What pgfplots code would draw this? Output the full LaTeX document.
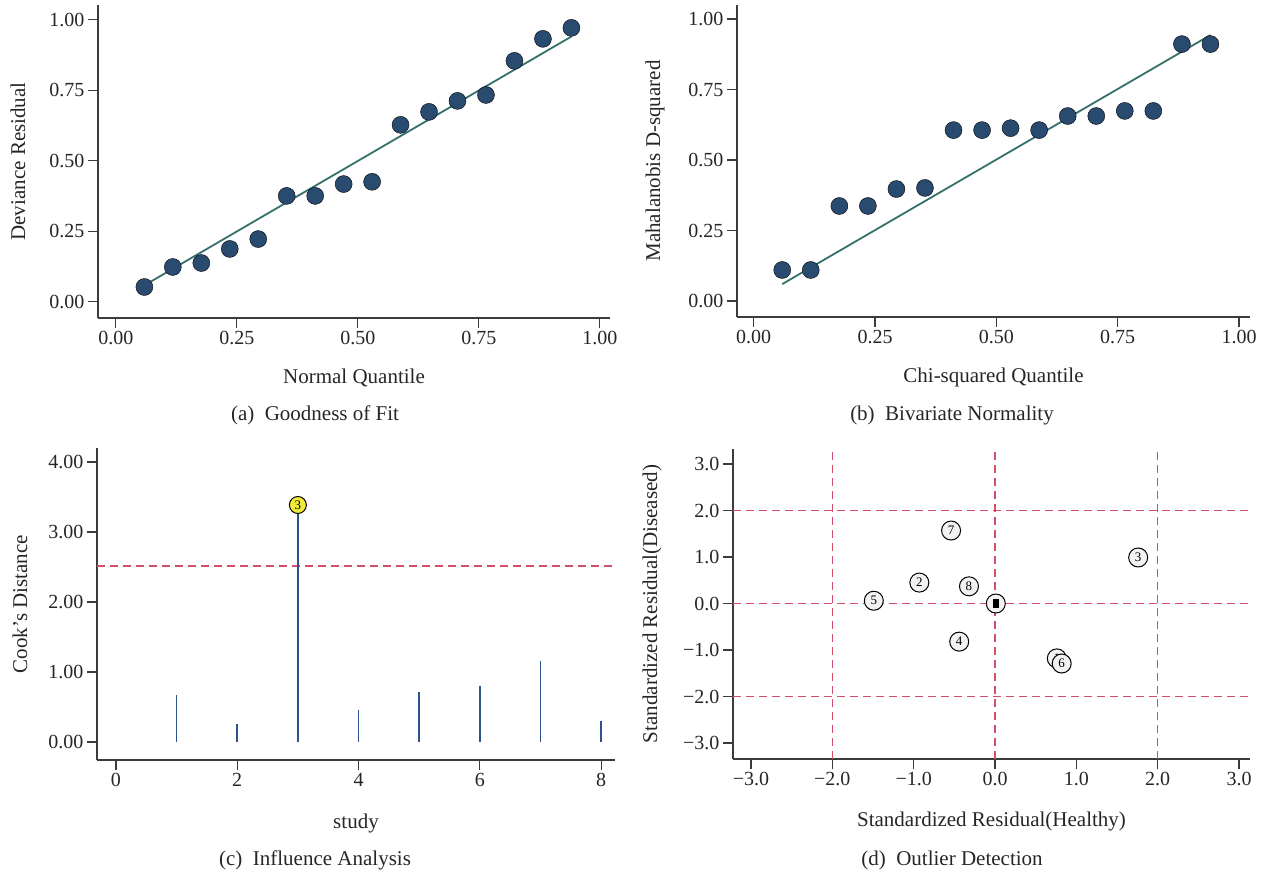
\documentclass[border=0pt]{standalone}
\usepackage{fontspec}
\setmainfont{Liberation Serif}
\usepackage{pgfplots}
\pgfplotsset{compat=1.18}
\definecolor{axisgray}{HTML}{3C3C3C}
\definecolor{dotnavy}{HTML}{2A4B70}
\definecolor{fitline}{HTML}{36706A}
\definecolor{refred}{HTML}{D4506A}
\definecolor{spikeblue}{HTML}{2C5290}
\definecolor{yel}{HTML}{F2EA3A}
\newcommand{\fs}{\fontsize{20}{23}\selectfont}
\newcommand{\fl}{\fontsize{21}{24}\selectfont}
\pgfplotsset{
  base/.style={
    scale only axis, anchor=south west,
    axis x line*=bottom, axis y line*=left,
    tick align=outside, major tick length=10pt,
    axis line style={axisgray, line width=1.1pt},
    every tick/.style={axisgray, line width=1.1pt},
    tick label style={font=\fs, text=black!85},
    label style={font=\fl, text=black!85},
    clip=false,
  },
  dots/.style={only marks, mark=*, mark size=8.5pt, mark options={draw=none, fill=dotnavy}},
  fit/.style={fitline, line width=1.8pt, mark=none},
  refdash/.style={refred, line width=1.6pt, dash pattern=on 8pt off 5pt},
}
\begin{document}
\begin{tikzpicture}
\useasboundingbox (0pt,0pt) rectangle (1268pt,-876pt);

% (a)
\begin{axis}[base, at={(98pt,-318pt)}, width=512pt, height=313pt,
  xmin=-0.037, xmax=1.021, ymin=-0.057, ymax=1.053,
  xtick={0,0.25,0.5,0.75,1}, xticklabels={0.00,0.25,0.50,0.75,1.00},
  ytick={0,0.25,0.5,0.75,1}, yticklabels={0.00,0.25,0.50,0.75,1.00},
  xlabel={Normal Quantile}, ylabel={Deviance Residual},
  xlabel style={at={([yshift=-60pt]axis description cs:0.5,0)}, anchor=center},
  ylabel style={at={([xshift=-80pt]axis description cs:0,0.5)}, anchor=center},
]
\addplot[fit] coordinates {(0.0588,0.0588) (0.9412,0.9412)};
\addplot[dots] coordinates {
(0.0588,0.053) (0.1176,0.124) (0.1765,0.138) (0.2353,0.188) (0.2941,0.223)
(0.3529,0.376) (0.4118,0.376) (0.4706,0.418) (0.5294,0.426) (0.5882,0.628)
(0.6471,0.674) (0.7059,0.713) (0.7647,0.734) (0.8235,0.855) (0.8824,0.933)
(0.9412,0.972)};
\end{axis}

% (b)
\begin{axis}[base, at={(737pt,-317pt)}, width=513pt, height=312pt,
  xmin=-0.0344, xmax=1.0227, ymin=-0.0567, ymax=1.0496,
  xtick={0,0.25,0.5,0.75,1}, xticklabels={0.00,0.25,0.50,0.75,1.00},
  ytick={0,0.25,0.5,0.75,1}, yticklabels={0.00,0.25,0.50,0.75,1.00},
  xlabel={Chi-squared Quantile}, ylabel={Mahalanobis D-squared},
  xlabel style={at={([yshift=-60pt]axis description cs:0.5,0)}, anchor=center},
  ylabel style={at={([xshift=-82pt]axis description cs:0,0.5)}, anchor=center},
]
\addplot[fit] coordinates {(0.0588,0.06) (0.9412,0.943)};
\addplot[dots] coordinates {
(0.0588,0.110) (0.1176,0.110) (0.1765,0.337) (0.2353,0.337) (0.2941,0.397)
(0.3529,0.401) (0.4118,0.606) (0.4706,0.606) (0.5294,0.613) (0.5882,0.606)
(0.6471,0.656) (0.7059,0.656) (0.7647,0.674) (0.8235,0.674) (0.8824,0.911)
(0.9412,0.911)};
\end{axis}

% (c)
\begin{axis}[base, at={(97pt,-760pt)}, width=518pt, height=312pt,
  xmin=-0.313, xmax=8.23, ymin=-0.257, ymax=4.2,
  xtick={0,2,4,6,8}, xticklabels={0,2,4,6,8},
  ytick={0,1,2,3,4}, yticklabels={0.00,1.00,2.00,3.00,4.00},
  xlabel={study}, ylabel={Cook’s Distance},
  xlabel style={at={([yshift=-63pt]axis description cs:0.5,0)}, anchor=center},
  ylabel style={at={([xshift=-77pt]axis description cs:0,0.5)}, anchor=center},
]
\addplot[refdash] coordinates {(-0.313,2.514) (8.23,2.514)};
\addplot[ycomb, spikeblue, line width=1.5pt, mark=none] coordinates {
(1,0.67) (2,0.257) (3,3.386) (4,0.457) (5,0.714) (6,0.80) (7,1.157) (8,0.30)};
\addplot[only marks, mark=none, nodes near coords={3},
  every node near coord/.append style={circle, draw=black, line width=1pt, fill=yel,
  minimum size=17pt, inner sep=0pt, anchor=center, font=\fontsize{13}{13}\selectfont}]
  coordinates {(3,3.386)};
\end{axis}

% (d)
\begin{axis}[base, at={(733pt,-759pt)}, width=517pt, height=310pt,
  xmin=-3.221, xmax=3.135, ymin=-3.344, ymax=3.323,
  xtick={-3,-2,-1,0,1,2,3}, xticklabels={−3.0,−2.0,−1.0,0.0,1.0,2.0,3.0},
  ytick={-3,-2,-1,0,1,2,3}, yticklabels={−3.0,−2.0,−1.0,0.0,1.0,2.0,3.0},
  xlabel={Standardized Residual(Healthy)}, ylabel={Standardized Residual(Diseased)},
  xlabel style={at={([yshift=-62pt]axis description cs:0.5,0)}, anchor=center},
  ylabel style={at={([xshift=-81pt]axis description cs:0,0.5)}, anchor=center},
]
\addplot[refdash] coordinates {(-3.221,2) (3.135,2)};
\addplot[refdash] coordinates {(-3.221,0) (3.135,0)};
\addplot[refdash] coordinates {(-3.221,-2) (3.135,-2)};
\addplot[refdash] coordinates {(-2,-3.344) (-2,3.323)};
\addplot[refdash] coordinates {(0,-3.344) (0,3.323)};
\addplot[refdash] coordinates {(2,-3.344) (2,3.323)};
\addplot[only marks, mark=none, nodes near coords, point meta=explicit symbolic,
  every node near coord/.append style={circle, draw=black, line width=1pt, fill=gray!10,
  minimum size=19pt, inner sep=0pt, anchor=center, font=\fontsize{13}{13}\selectfont}]
  table[meta=lab] {
x y lab
-0.54 1.57 7
-0.93 0.45 2
-0.32 0.37 8
-1.49 0.06 5
-0.44 -0.82 4
1.76 0.99 3
0.76 -1.18 1
0.82 -1.29 6
};
\addplot[only marks, mark=none, nodes near coords={\rule{6pt}{9pt}},
  every node near coord/.append style={circle, draw=black, line width=1pt, fill=gray!10,
  minimum size=19pt, inner sep=0pt, anchor=center}]
  coordinates {(0.01,0.0)};
\end{axis}

\node[font=\fl, text=black!85] at (315pt,-415pt) {(a)\enspace Goodness of Fit};
\node[font=\fl, text=black!85] at (952pt,-415pt) {(b)\enspace Bivariate Normality};
\node[font=\fl, text=black!85] at (315pt,-860pt) {(c)\enspace Influence Analysis};
\node[font=\fl, text=black!85] at (952pt,-860pt) {(d)\enspace Outlier Detection};
\end{tikzpicture}
\end{document}
